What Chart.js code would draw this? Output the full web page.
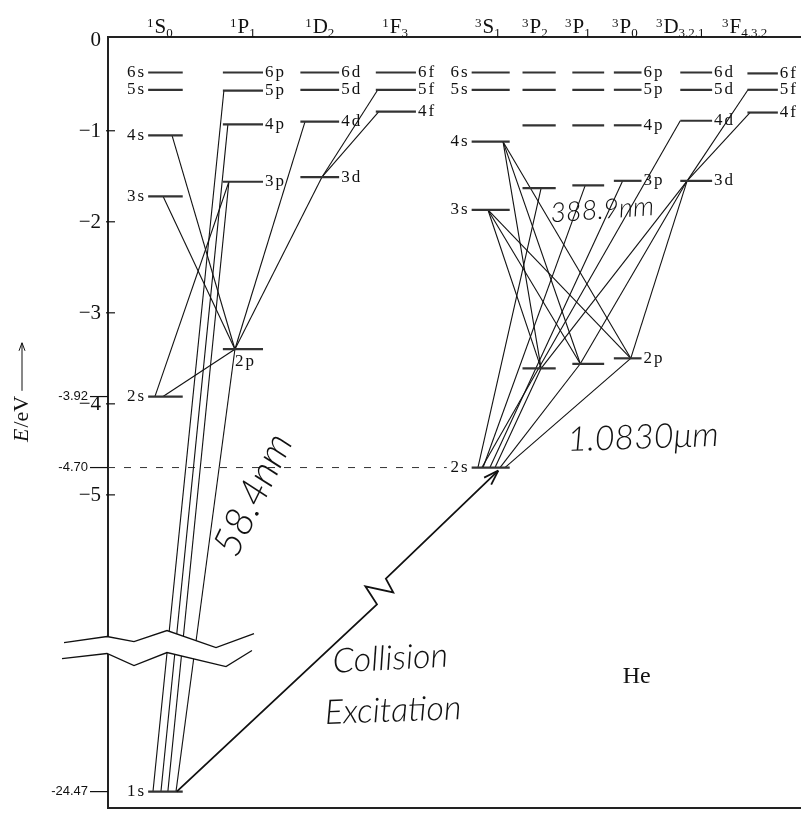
<!DOCTYPE html>
<html>
<head>
<meta charset="utf-8">
<title>He term diagram</title>
<script src="https://cdn.jsdelivr.net/npm/chart.js@4.4.1/dist/chart.umd.min.js"></script>
<style>
  body { margin: 0; background: #fff; }
  canvas { display: block; }
</style>
</head>
<body>
<canvas id="grotrian" width="802" height="814"></canvas>
<script>
// --- data ---------------------------------------------------------------
// term columns, left to right (singlets, then triplets)
const columnKeys = ['1S', '1P', '1D', '1F', '3S', '3P2', '3P1', '3P0', '3D', '3F'];
const colX = [0.83, 1.95, 3.06, 4.16, 5.53, 6.23, 6.94, 7.51, 8.50, 9.46];

// column headers  (¹S₀ ... ³F₄.₃.₂)
const termSup = ['1', '1', '1', '1', '3', '3', '3', '3', '3', '3'];
const termLetter = ['S', 'P', 'D', 'F', 'S', 'P', 'P', 'P', 'D', 'F'];
const termSub = ['0', '1', '2', '3', '1', '2', '1', '0', '3.2.1', '4.3.2'];
const termX = [0.75, 1.95, 3.06, 4.15, 5.49, 6.17, 6.79, 7.47, 8.27, 9.20];

// levels of each column and their energies (eV)
const levelNames = [
  ['1s', '2s', '3s', '4s', '5s', '6s'],
  ['2p', '3p', '4p', '5p', '6p'],
  ['3d', '4d', '5d', '6d'],
  ['4f', '5f', '6f'],
  ['2s', '3s', '4s', '5s', '6s'],
  ['2p', '3p', '4p', '5p', '6p'],
  ['2p', '3p', '4p', '5p', '6p'],
  ['2p', '3p', '4p', '5p', '6p'],
  ['3d', '4d', '5d', '6d'],
  ['4f', '5f', '6f']
];
const levelEnergies = [
  [-24.47, -3.92, -1.72, -1.05, -0.55, -0.36],
  [-3.40, -1.56, -0.93, -0.56, -0.36],
  [-1.51, -0.90, -0.55, -0.36],
  [-0.79, -0.55, -0.36],
  [-4.70, -1.87, -1.12, -0.55, -0.36],
  [-3.61, -1.63, -0.94, -0.55, -0.36],
  [-3.56, -1.60, -0.94, -0.55, -0.36],
  [-3.50, -1.55, -0.94, -0.55, -0.36],
  [-1.55, -0.89, -0.55, -0.36],
  [-0.80, -0.55, -0.37]
];

// y axis labels
const axisTicks = [0, -1, -2, -3, -4, -5];
const markedEnergies = [-3.92, -4.70, -24.47];

// transitions: [from level, where on it, to level, where on it]  (-1 left end, 1 right end)
const singletLines = [
  ['1S 1s', -0.72, '1P 5p', -0.95],
  ['1S 1s', -0.26, '1P 4p', -0.75],
  ['1S 1s', 0.14, '1P 3p', -0.70],
  ['1S 1s', 0.61, '1P 2p', -0.40],
  ['1S 4s', 0.38, '1P 2p', -0.40],
  ['1S 3s', -0.14, '1P 2p', -0.40],
  ['1S 2s', -0.61, '1P 3p', -0.70],
  ['1S 2s', -0.14, '1P 2p', -0.40],
  ['1P 2p', -0.40, '1D 4d', -0.76],
  ['1P 2p', -0.40, '1D 3d', 0.11],
  ['1D 3d', 0.11, '1F 4f', -0.85],
  ['1D 3d', 0.11, '1F 5f', -0.90]
];
const tripletLines = [
  ['3S 4s', 0.65, '3P2 2p', 0.12],
  ['3S 4s', 0.65, '3P1 2p', -0.50],
  ['3S 4s', 0.65, '3P0 2p', 0.22],
  ['3S 3s', -0.14, '3P2 2p', 0.12],
  ['3S 3s', -0.14, '3P1 2p', -0.50],
  ['3S 3s', -0.14, '3P0 2p', 0.22],
  ['3D 3d', -0.57, '3P2 2p', 0.12],
  ['3D 3d', -0.57, '3P1 2p', -0.50],
  ['3D 3d', -0.57, '3P0 2p', 0.22],
  ['3S 2s', -0.67, '3P2 3p', 0.12],
  ['3S 2s', -0.40, '3P1 3p', -0.19],
  ['3S 2s', -0.04, '3P0 3p', -0.36],
  ['3S 2s', 0.23, '3P2 2p', 0.12],
  ['3S 2s', 0.49, '3P1 2p', -0.50],
  ['3S 2s', 0.75, '3P0 2p', 0.22],
  ['3S 2s', -0.46, '3D 4d', -1.00],
  ['3D 3d', -0.57, '3F 4f', -0.83],
  ['3D 3d', -0.57, '3F 5f', -0.96]
];

// --- drawing helpers -----------------------------------------------------
const LEVEL_HALF = [0.25, 0.29, 0.28, 0.29, 0.275, 0.24, 0.23, 0.20, 0.23, 0.22];
const LABEL_SIDE = ['left', 'right', 'right', 'right', 'left', null, null, 'right', 'right', 'right'];
const BREAK_SHIFT = 16.21;   // eV cut out of the axis by the break
const BREAK_AT = -6.71;      // where the break mark sits (axis units)
const SERIF = "'Liberation Serif', 'DejaVu Serif', serif";
const HAND = "Lato, 'Open Sans', 'DejaVu Sans', sans-serif";

function yOf(E) {
  return E < -6 ? E + BREAK_SHIFT : E;
}

function levelPos(key, at) {
  const [col, name] = key.split(' ');
  const c = columnKeys.indexOf(col);
  const k = levelNames[c].indexOf(name);
  return { x: colX[c] + (at || 0) * LEVEL_HALF[c], y: yOf(levelEnergies[c][k]) };
}

const datasets = [];

// level bars
columnKeys.forEach((col, c) => {
  levelNames[c].forEach((name, k) => {
    const y = yOf(levelEnergies[c][k]);
    datasets.push({
      data: [{ x: colX[c] - LEVEL_HALF[c], y: y }, { x: colX[c] + LEVEL_HALF[c], y: y }],
      borderColor: '#333',
      borderWidth: 2.2
    });
  });
});

// transitions
singletLines.concat(tripletLines).forEach(t => {
  datasets.push({
    data: [levelPos(t[0], t[1]), levelPos(t[2], t[3])],
    borderColor: '#111',
    borderWidth: 1.1
  });
});

// dashed guide for the triplet 2s level
datasets.push({
  data: [{ x: 0, y: -4.70 }, { x: colX[4] - LEVEL_HALF[4] - 0.36, y: -4.70 }],
  borderColor: '#333',
  borderWidth: 1,
  borderDash: [7, 9]
});

function drawTerm(ctx, cx, sup, letter, sub) {
  const big = '21px ' + SERIF, small = '13px ' + SERIF;
  ctx.font = small; const wSup = ctx.measureText(sup).width; const wSub = ctx.measureText(sub).width;
  ctx.font = big; const wL = ctx.measureText(letter).width;
  let x = cx - (wSup + wL + wSub + 1) / 2;
  ctx.textAlign = 'left';
  ctx.textBaseline = 'alphabetic';
  ctx.font = small; ctx.fillText(sup, x, 27); x += wSup + 1;
  ctx.font = big; ctx.fillText(letter, x, 33); x += wL;
  ctx.font = small; ctx.fillText(sub, x, 37);
}

function handText(ctx, text, px, py, size, angle) {
  ctx.save();
  ctx.translate(px, py);
  ctx.rotate(angle * Math.PI / 180);
  ctx.font = 'italic 300 ' + size + 'px ' + HAND;
  ctx.textAlign = 'center';
  ctx.textBaseline = 'middle';
  ctx.fillText(text, 0, 0);
  ctx.restore();
}

const diagramPlugin = {
  id: 'diagram',
  afterDatasetsDraw(chart) {
    const { ctx, chartArea, scales: { x, y } } = chart;
    ctx.save();
    ctx.fillStyle = '#111';
    ctx.strokeStyle = '#111';

    // axis break
    const ax = chartArea.left;
    const yc = y.getPixelForValue(BREAK_AT);
    const upper = [[-44, -8], [-1, -14], [26, -9], [59, -20], [108, -3], [146, -17]];
    const lower = [[-46, 8], [-1, 3], [26, 15], [59, 2], [118, 16], [144, 0]];
    ctx.beginPath();
    upper.forEach((p, i) => i ? ctx.lineTo(ax + p[0], yc + p[1]) : ctx.moveTo(ax + p[0], yc + p[1]));
    lower.slice().reverse().forEach(p => ctx.lineTo(ax + p[0], yc + p[1]));
    ctx.closePath();
    ctx.fillStyle = '#fff';
    ctx.fill();
    ctx.fillStyle = '#111';
    ctx.lineWidth = 1.3;
    [upper, lower].forEach(line => {
      ctx.beginPath();
      line.forEach((p, i) => i ? ctx.lineTo(ax + p[0], yc + p[1]) : ctx.moveTo(ax + p[0], yc + p[1]));
      ctx.stroke();
    });

    // collision excitation arrow: 1s -> triplet 2s with a zigzag
    const a = levelPos('1S 1s', 0.65), b = levelPos('3S 2s', 0.40);
    const x0 = x.getPixelForValue(a.x), y0 = y.getPixelForValue(a.y);
    const x1 = x.getPixelForValue(b.x), y1 = y.getPixelForValue(b.y) + 3;
    const dx = x1 - x0, dy = y1 - y0, len = Math.hypot(dx, dy);
    const ux = dx / len, uy = dy / len, nx = -uy, ny = ux;
    const zig = [[0.603, 9], [0.613, -12], [0.647, 12], [0.657, -3]];
    ctx.lineWidth = 1.8;
    ctx.beginPath();
    ctx.moveTo(x0, y0);
    zig.forEach(z => ctx.lineTo(x0 + dx * z[0] + nx * z[1], y0 + dy * z[0] + ny * z[1]));
    ctx.lineTo(x1, y1);
    ctx.stroke();
    ctx.beginPath();
    [[-15, 5], [-15, -5]].forEach(h => {
      ctx.moveTo(x1, y1);
      ctx.lineTo(x1 + ux * h[0] + nx * h[1], y1 + uy * h[0] + ny * h[1]);
    });
    ctx.stroke();
    ctx.restore();
  },
  afterDraw(chart) {
    const { ctx, chartArea, scales: { x, y } } = chart;
    ctx.save();
    ctx.fillStyle = '#111';
    ctx.strokeStyle = '#111';

    // column headers
    termX.forEach((v, i) => drawTerm(ctx, x.getPixelForValue(v), termSup[i], termLetter[i], termSub[i]));

    // y axis labels
    const ax = chartArea.left;
    ctx.lineWidth = 1.2;
    ctx.textBaseline = 'middle';
    ctx.textAlign = 'right';
    ctx.font = '21px ' + SERIF;
    axisTicks.forEach(v => {
      const py = y.getPixelForValue(v);
      ctx.fillText(v === 0 ? '0' : '\u2212' + Math.abs(v), ax - 7, py + 1);
      if (v !== 0) {
        ctx.beginPath(); ctx.moveTo(ax - 2, py); ctx.lineTo(ax + 7, py); ctx.stroke();
      }
    });
    ctx.font = "13px 'Liberation Sans', 'DejaVu Sans', sans-serif";
    markedEnergies.forEach(E => {
      const py = y.getPixelForValue(yOf(E));
      ctx.fillText(E.toFixed(2), ax - 20, py);
      ctx.beginPath(); ctx.moveTo(ax - 18, py); ctx.lineTo(ax, py); ctx.stroke();
    });

    // level labels
    ctx.font = '17px ' + SERIF;
    ctx.letterSpacing = '2px';
    columnKeys.forEach((col, c) => {
      const side = LABEL_SIDE[c];
      if (!side) return;
      levelNames[c].forEach((name, k) => {
        const py = y.getPixelForValue(yOf(levelEnergies[c][k]));
        if (col === '1P' && name === '2p') {
          ctx.textAlign = 'left';
          ctx.fillText(name, x.getPixelForValue(colX[c]) - 8, py + 12);
        } else if (side === 'left') {
          ctx.textAlign = 'right';
          ctx.fillText(name, x.getPixelForValue(colX[c] - LEVEL_HALF[c]) - 2, py);
        } else {
          ctx.textAlign = 'left';
          ctx.fillText(name, x.getPixelForValue(colX[c] + LEVEL_HALF[c]) + 2, py);
        }
      });
    });
    ctx.letterSpacing = '0px';

    // y axis title  E/eV ->
    ctx.save();
    ctx.translate(22, 442);
    ctx.rotate(-Math.PI / 2);
    ctx.textAlign = 'left';
    ctx.textBaseline = 'middle';
    ctx.font = 'italic 22px ' + SERIF;
    ctx.fillText('E', 0, 0);
    let w = ctx.measureText('E').width + 1;
    ctx.font = '22px ' + SERIF;
    ctx.fillText('/eV', w, 0);
    w += ctx.measureText('/eV').width + 5;
    ctx.lineWidth = 1;
    ctx.beginPath();
    ctx.moveTo(w, 0); ctx.lineTo(w + 48, 0);
    ctx.moveTo(w + 48, 0); ctx.lineTo(w + 40, -3);
    ctx.moveTo(w + 48, 0); ctx.lineTo(w + 40, 3);
    ctx.stroke();
    ctx.restore();

    // handwritten notes
    handText(ctx, '58.4nm', x.getPixelForValue(2.10), y.getPixelForValue(-5.00), 40, -64);
    handText(ctx, '388.9nm', x.getPixelForValue(7.14), y.getPixelForValue(-1.87), 27, -4);
    handText(ctx, '1.0830\u03bcm', x.getPixelForValue(7.73), y.getPixelForValue(-4.37), 34, -2);
    handText(ctx, 'Collision', x.getPixelForValue(4.08), y.getPixelForValue(-6.80), 34, -3);
    handText(ctx, 'Excitation', x.getPixelForValue(4.12), y.getPixelForValue(-7.37), 34, -2);

    ctx.font = '24px ' + SERIF;
    ctx.textAlign = 'center';
    ctx.fillText('He', x.getPixelForValue(7.64), y.getPixelForValue(-7.00));
    ctx.restore();
  }
};

new Chart(document.getElementById('grotrian'), {
  type: 'scatter',
  data: { datasets: datasets },
  options: {
    responsive: false,
    animation: false,
    devicePixelRatio: 1,
    showLine: true,
    elements: { point: { radius: 0, hoverRadius: 0 }, line: { tension: 0 } },
    layout: { padding: { top: 37, right: 2, bottom: 6, left: 0 } },
    plugins: { legend: { display: false }, tooltip: { enabled: false } },
    scales: {
      x: {
        type: 'linear', position: 'bottom', min: 0, max: 10,
        grid: { display: false, drawTicks: false },
        ticks: { display: false },
        border: { display: true, color: '#222', width: 2 }
      },
      x2: {
        type: 'linear', axis: 'x', position: 'top', min: 0, max: 10,
        grid: { display: false, drawTicks: false },
        ticks: { display: false },
        border: { display: true, color: '#222', width: 2 }
      },
      y: {
        type: 'linear', min: -8.44, max: 0.03,
        grid: { display: false, drawTicks: false },
        ticks: { display: false },
        border: { display: true, color: '#222', width: 2 },
        afterFit(scale) { scale.width = 108; }
      }
    }
  },
  plugins: [diagramPlugin]
});
</script>
</body>
</html>
